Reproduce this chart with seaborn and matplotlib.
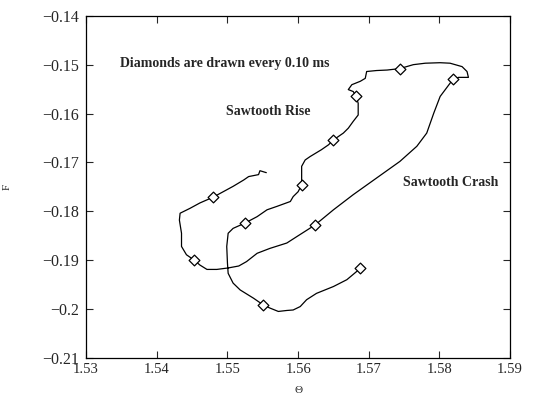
import pandas as pd
import matplotlib
matplotlib.use("Agg")
import matplotlib.pyplot as plt
import seaborn as sns

# trajectory in (Theta, F)
theta = [1.5555, 1.5546, 1.5544, 1.5530, 1.5523, 1.5508, 1.5480, 1.5461, 1.5447, 1.5433,
         1.5432, 1.5435, 1.5435, 1.5442, 1.5452, 1.5461, 1.5471, 1.5485, 1.5501, 1.5516,
         1.5527, 1.5542, 1.5560, 1.5584, 1.5598, 1.5624, 1.5650, 1.5678, 1.5711, 1.5744,
         1.5768, 1.5782, 1.5792, 1.5801, 1.5815, 1.5819, 1.5827, 1.5841, 1.5839, 1.5832,
         1.5815, 1.5801, 1.5780, 1.5763, 1.5744, 1.5726, 1.5711, 1.5697, 1.5695, 1.5688,
         1.5676, 1.5671, 1.5678, 1.5682, 1.5685, 1.5685, 1.5678, 1.5671, 1.5664, 1.5650,
         1.5643, 1.5633, 1.5617, 1.5610, 1.5605, 1.5605, 1.5605, 1.5600, 1.5593, 1.5589,
         1.5570, 1.5556, 1.5542, 1.5525, 1.5508, 1.5501, 1.5499, 1.5500, 1.5501, 1.5508,
         1.5518, 1.5537, 1.5551, 1.5560, 1.5572, 1.5584, 1.5593, 1.5603, 1.5612, 1.5626,
         1.5650, 1.5669, 1.5688]
F = [-0.1721, -0.1717, -0.1725, -0.1729, -0.1736, -0.1749, -0.1771, -0.1783, -0.1794, -0.1804,
     -0.1818, -0.1845, -0.1872, -0.1889, -0.1899, -0.1910, -0.1919, -0.1919, -0.1916, -0.1912,
     -0.1903, -0.1886, -0.1876, -0.1865, -0.1852, -0.1828, -0.1797, -0.1766, -0.1732, -0.1698,
     -0.1667, -0.1640, -0.1599, -0.1565, -0.1538, -0.1530, -0.1526, -0.1526, -0.1514, -0.1504,
     -0.1497, -0.1496, -0.1497, -0.1500, -0.1508, -0.1511, -0.1512, -0.1514, -0.1528, -0.1534,
     -0.1541, -0.1551, -0.1555, -0.1565, -0.1579, -0.1603, -0.1616, -0.1630, -0.1640, -0.1654,
     -0.1664, -0.1674, -0.1688, -0.1695, -0.1708, -0.1725, -0.1746, -0.1760, -0.1770, -0.1780,
     -0.1790, -0.1797, -0.1811, -0.1824, -0.1835, -0.1845, -0.1872, -0.1906, -0.1927, -0.1947,
     -0.1961, -0.1978, -0.1992, -0.1998, -0.2005, -0.2003, -0.2002, -0.1995, -0.1981, -0.1968,
     -0.1954, -0.1940, -0.1917]

# diamonds every 0.10 ms
diamond_theta = [1.5480, 1.5452, 1.5624, 1.5819, 1.5744, 1.5682, 1.5650, 1.5605, 1.5525, 1.5551, 1.5688]
diamond_F = [-0.1771, -0.1899, -0.1828, -0.1530, -0.1508, -0.1565, -0.1654, -0.1746, -0.1824, -0.1992, -0.1917]

x_ticks = [1.53, 1.54, 1.55, 1.56, 1.57, 1.58, 1.59]
y_ticks = [-0.21, -0.2, -0.19, -0.18, -0.17, -0.16, -0.15, -0.14]

sns.set_style("ticks")
plt.rcParams["font.family"] = ["Liberation Serif", "DejaVu Serif"]
plt.rcParams["xtick.direction"] = "in"
plt.rcParams["ytick.direction"] = "in"

traj = pd.DataFrame({"theta": theta, "F": F})
marks = pd.DataFrame({"theta": diamond_theta, "F": diamond_F})

fig, ax = plt.subplots(figsize=(5.45, 3.95), dpi=100)
fig.subplots_adjust(left=0.158, right=0.936, top=0.96, bottom=0.094)

sns.lineplot(data=traj, x="theta", y="F", sort=False, estimator=None,
             color="black", linewidth=0.9, ax=ax)
sns.scatterplot(data=marks, x="theta", y="F", marker="D", s=30,
                facecolor="white", edgecolor="black", linewidth=0.9, zorder=3, ax=ax)

ax.set_xlim(1.53, 1.59)
ax.set_ylim(-0.21, -0.14)
ax.set_xticks(x_ticks)
ax.set_xticklabels(["%.2f" % v for v in x_ticks])
ax.set_yticks(y_ticks)
ax.set_yticklabels([("%g" % v).replace("-", "\u2212") for v in y_ticks])
ax.tick_params(top=True, right=True, length=5, width=0.8)
ax.tick_params(axis="x", labelsize=10.5, pad=4)
ax.tick_params(axis="y", labelsize=11.5, pad=5)
for s in ax.spines.values():
    s.set_linewidth(0.9)
    s.set_color("black")

ax.set_xlabel("\u0398", fontsize=8, labelpad=7)
ax.set_ylabel("F", fontsize=8, labelpad=22)

ax.text(1.5348, -0.1497, "Diamonds are drawn every 0.10 ms", fontsize=10,
        fontweight="bold", va="center")
ax.text(1.5498, -0.1596, "Sawtooth Rise", fontsize=10, fontweight="bold", va="center")
ax.text(1.5749, -0.1741, "Sawtooth Crash", fontsize=10, fontweight="bold", va="center")

fig.savefig("out.png", dpi=100)
